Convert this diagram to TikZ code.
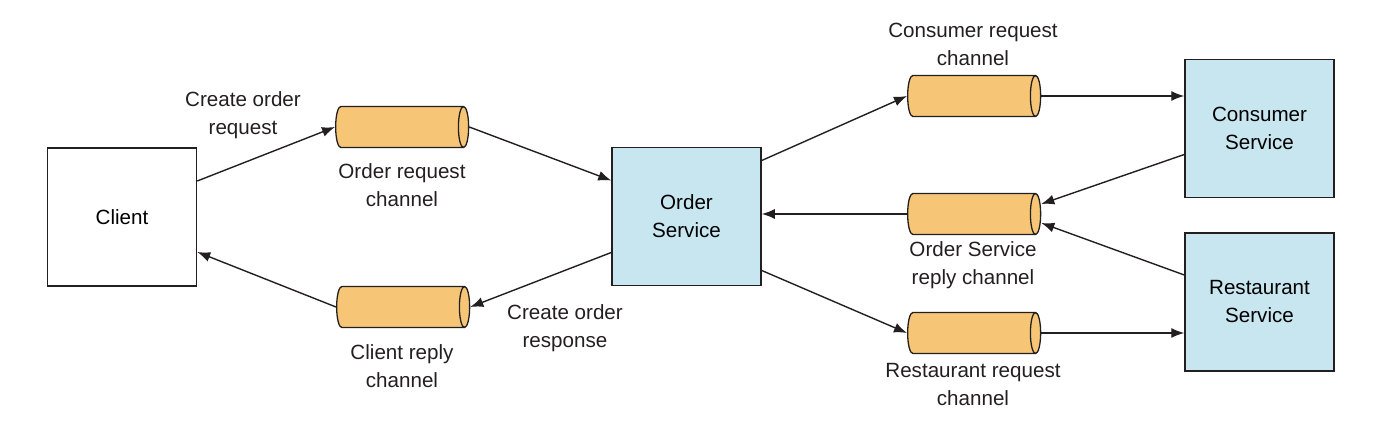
\documentclass[tikz,border=0pt]{standalone}
\usepackage{fontspec}
\setmainfont{Liberation Sans}
\usetikzlibrary{shapes.geometric,arrows.meta,positioning}

\definecolor{chanfill}{RGB}{246,198,118}
\definecolor{svcfill}{RGB}{199,230,240}
\definecolor{inkgray}{RGB}{35,31,32}

\tikzset{
  svcbox/.style={draw=inkgray, line width=0.75pt, fill=svcfill, minimum width=74.5pt, minimum height=69pt, inner sep=0pt, align=center},
  clientbox/.style={svcbox, fill=white},
  chan/.style={cylinder, anchor=west, draw=inkgray, line width=0.65pt, fill=chanfill, shape aspect=0.25, inner xsep=0pt, inner ysep=10.25pt, minimum width=20.5pt, minimum height=66.5pt},
  lbl/.style={align=center, inner sep=0pt, text=inkgray},
  msg/.style={draw=inkgray, line width=0.7pt, -{Latex[length=6.5pt,width=5pt]}},
}

\begin{document}
\begin{tikzpicture}[x=0.5pt,y=-0.5pt,font=\fontsize{10.3}{14}\selectfont]
\useasboundingbox (0,0) rectangle (1376,422);
% Services
\node[clientbox] (client) at (122,217) {Client};
\node[svcbox] (order) at (686.5,216.5) {Order\\Service};
\node[svcbox] (consumer) at (1259.5,128.5) {Consumer\\Service};
\node[svcbox] (restaurant) at (1259.5,302) {Restaurant\\Service};
% Channels (placed by their left end)
\node[chan] (orderreq) at (335,127) {};
\node[chan] (clientrep) at (336,307) {};
\node[chan] (consreq) at (907,96) {};
\node[chan] (osrep) at (907,214) {};
\node[chan] (restreq) at (907,333) {};
% Text Node
\node[lbl] (createreq) at (243,115) {Create order\\request};
\node[lbl] (orderreqtxt) at (402,185) {Order request\\channel};
\node[lbl] (clientreptxt) at (402,366) {Client reply\\channel};
\node[lbl] (createresp) at (565,328) {Create order\\response};
\node[lbl] (consreqtxt) at (973,44) {Consumer request\\channel};
\node[lbl] (osreptxt) at (973,265) {Order Service\\reply channel};
\node[lbl] (restreqtxt) at (973,385) {Restaurant request\\channel};
% Messages
\draw[msg] ([yshift=18pt]client.east) -- (orderreq.west);
\draw[msg] (orderreq.east) -- ([yshift=18pt]order.west);
\draw[msg] ([yshift=-18pt]order.west) -- (clientrep.east);
\draw[msg] (clientrep.west) -- ([yshift=-17.5pt]client.east);
\draw[msg] ([yshift=28pt]order.east) -- (consreq.west);
\draw[msg] (consreq.east) -- (consreq.east -| consumer.west);
\draw[msg] ([yshift=-13pt]consumer.west) -- ([yshift=5pt]osrep.east);
\draw[msg] ([yshift=13.5pt]restaurant.west) -- ([yshift=-4.5pt]osrep.east);
\draw[msg] (osrep.west) -- (osrep.west -| order.east);
\draw[msg] ([yshift=-27pt]order.east) -- (restreq.west);
\draw[msg] (restreq.east) -- (restreq.east -| restaurant.west);
\end{tikzpicture}
\end{document}
